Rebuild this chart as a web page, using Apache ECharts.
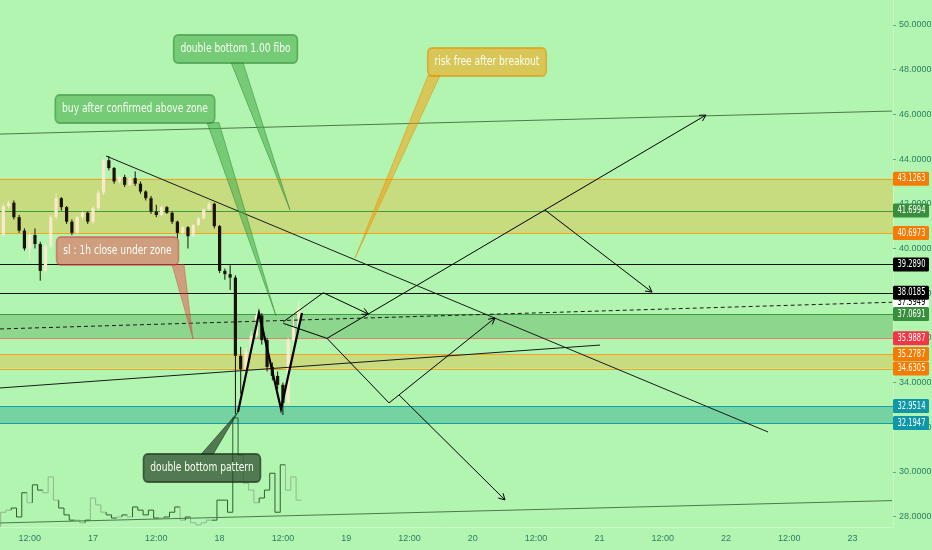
<!DOCTYPE html>
<html><head><meta charset="utf-8">
<script src="https://cdn.jsdelivr.net/npm/echarts@6/dist/echarts.min.js"></script>
<style>html,body{margin:0;padding:0;background:#b2f5b0}#c{width:932px;height:550px}</style>
</head><body><div id="c"></div>
<script>
// ---------------- DATA (hours counted from day 16 00:00) ----------------
const hours = [7,8,9,10,11,12,13,14,15,16,17,18,19,20,21,22,23,24,25,26,27,28,29,30,31,32,33,34,35,36,37,38,39,40,41,42,43,44,45,46,47,48,49,50,51,52,53,54,55,56,57,58,59,60,61,62,63];
const opens  = [40.6,41.9,42.05,41.4,40.8,40.0,40.6,40.2,39.0,40.1,41.4,42.25,41.85,41.2,40.7,41.4,41.6,41.2,41.8,42.5,43.95,43.6,43.0,43.2,42.85,43.15,42.9,42.55,42.25,41.65,41.5,41.85,41.6,41.2,40.7,40.95,40.55,41.05,41.35,41.75,42.0,41.0,39.0,38.85,38.7,35.2,34.6,35.4,36.1,37.0,35.9,34.7,34.3,33.9,33.1,35.9,36.5];
const closes = [41.9,42.05,41.4,40.8,40.0,40.6,40.2,39.0,40.1,41.4,42.25,41.85,41.2,40.7,41.4,41.6,41.2,41.8,42.5,43.95,43.6,43.0,43.2,42.85,43.15,42.9,42.55,42.25,41.65,41.5,41.85,41.6,41.2,40.7,40.95,40.55,41.05,41.35,41.75,42.0,41.0,39.0,38.85,38.7,35.2,34.6,35.4,36.1,37.0,35.9,34.7,34.3,33.9,33.1,35.9,36.5,37.35];
const lows   = [40.5,41.8,41.3,40.7,39.9,39.5,40.0,38.56,38.9,40.0,41.3,41.7,41.1,40.6,40.6,41.3,41.1,41.1,41.7,42.4,43.5,42.9,42.9,42.75,42.8,42.8,42.45,42.15,41.55,41.4,41.45,41.55,41.1,40.46,40.65,40.0,40.5,41.0,41.3,41.7,40.9,38.9,38.6,38.14,32.6,33.5,34.2,35.2,36.0,35.7,34.5,34.1,33.7,32.55,33.0,35.8,36.3];
const highs  = [42.0,42.15,42.15,41.5,40.9,40.7,40.9,40.3,40.2,41.5,42.47,42.3,41.9,41.3,41.45,41.65,41.65,41.9,42.6,44.0,44.14,43.65,43.3,43.3,43.2,43.45,43.0,42.6,42.35,41.95,41.9,41.9,41.65,41.25,41.0,41.0,41.1,41.4,41.8,42.1,42.05,41.05,39.1,39.25,38.8,35.6,35.6,36.3,37.15,37.1,36.0,34.9,34.5,34.0,36.0,36.9,37.6];
const volumes = [2.8,3.2,3.6,1.9,6.5,4.6,8.0,7.0,6.5,9.5,5.1,3.6,2.3,1.3,1.3,0.8,1.3,5.5,4.2,2.8,2.3,1.7,1.9,2.3,1.9,3.8,3.2,2.3,3.2,1.7,1.7,1.9,2.8,3.8,1.3,1.9,0.8,0.4,0.8,1.3,1.3,5.1,5.1,2.8,20.7,13.7,8.3,7.0,4.6,5.5,7.0,10.2,2.8,11.8,7.0,9.5,5.1];

const xTickHours  = [12,24,36,48,60,72,84,96,108,120,132,144,156,168];
const xTickLabels = ['12:00','17','12:00','18','12:00','19','12:00','20','12:00','21','12:00','22','12:00','23'];
const yTicks = [28,30,32,34,36,38,40,42,44,46,48,50];

// horizontal zones (top, bottom) and level lines
const zoneTops    = [43.1263, 37.0691, 35.2787, 32.9514];
const zoneBottoms = [40.6973, 35.9887, 34.6305, 32.1947];
const levelValues = [43.1263, 41.6994, 40.6973, 39.2890, 38.0185, 37.0691, 35.9887, 35.2787, 34.6305, 32.9514, 32.1947];
const dashedLevel = 37.5949;

// drawings: [hour, price] points
const topTrend     = [[6.37,45.12],[175.47,46.15]];
const bottomTrend  = [[6.37,27.72],[175.47,28.72]];
const downTrend    = [[26.47,44.14],[151.97,31.79]];
const supportLine  = [[6.37,33.76],[120.12,35.68]];
const dashedLine   = [[6.37,36.40],[175.47,37.5949]];
const doubleBottom = [[51.49,32.68],[55.47,37.11],[59.64,32.82],[63.62,37.11]];
const pathA = [[60.08,36.72],[67.66,38.02],[76.19,37.07]];
const pathB = [[60.08,36.65],[68.36,35.98],[140.21,45.97]];
const pathC = [[68.36,35.98],[80.12,33.09],[100.21,36.89]];
const pathD = [[82.01,33.45],[102.11,28.75]];
const pathE = [[109.69,41.72],[129.97,38.05]];

// callouts
const calloutTexts     = ['double bottom 1.00 fibo','buy after confirmed above zone','risk free after breakout','sl : 1h close under zone','double bottom pattern'];
const calloutCenters   = [[51.02,48.93],[31.96,46.24],[98.69,48.34],[28.65,39.89],[44.66,30.18]];
const calloutTailBases = [51.30, 46.75, 88.65, 40.11, 45.61];
const calloutTips      = [[61.35,41.72],[58.69,36.98],[73.67,39.57],[42.96,35.95],[51.49,32.68]];

// ---------------- STYLE ----------------
const X_MIN = 6.37, X_MAX = 175.66, Y_MIN = 27.539, Y_MAX = 51.1186;
const FONT = "'DejaVu Sans Condensed','DejaVu Sans',sans-serif";
const AXIS_FONT = "'Liberation Sans',Arial,sans-serif";
const AXIS_TEXT = '#2e7d64';
const UP = '#fbe9cc', DOWN = '#1a1205';
const VOL_UP = '#8fb88f', VOL_DOWN = '#2f5f2f';
const ORANGE = '#f7a21b', GREEN = '#3f9a44', TEAL = '#16a0a6';
const zoneFills = ['rgba(255,152,0,0.28)','rgba(56,142,60,0.30)','rgba(255,152,0,0.28)','rgba(0,150,136,0.35)'];
const levelLineColors = [ORANGE, GREEN, ORANGE, '#111', '#111', GREEN, '#e0806e', ORANGE, ORANGE, TEAL, TEAL];
const labelOrder = [dashedLevel].concat(levelValues);
const labelBg = ['#ffffff','#f57c00','#388e3c','#f57c00','#000000','#000000','#388e3c','#f23645','#f57c00','#f57c00','#0e97a8','#0e97a8'];
const labelFg = ['#000','#fff','#fff','#fff','#fff','#fff','#fff','#fff','#fff','#fff','#fff','#fff'];
const drawingList = [
  {pts: topTrend, color:'#4a7a4a', width:1},
  {pts: bottomTrend, color:'#4a7a4a', width:1},
  {pts: downTrend, color:'#1a1a1a', width:1},
  {pts: supportLine, color:'#1a1a1a', width:1},
  {pts: dashedLine, color:'#1a1a1a', width:1, dash:[4,3]},
  {pts: doubleBottom, color:'#000', width:2.2},
  {pts: pathA, color:'#000', width:1, arrow:true},
  {pts: pathB, color:'#000', width:1, arrow:true},
  {pts: pathC, color:'#000', width:1, arrow:true},
  {pts: pathD, color:'#000', width:1, arrow:true},
  {pts: pathE, color:'#000', width:1, arrow:true}
];
const calloutBg = ['rgba(76,175,80,0.6)','rgba(76,175,80,0.6)','rgba(255,152,0,0.5)','rgba(242,54,69,0.45)','rgba(40,70,40,0.7)'];
const calloutBorder = ['rgba(46,125,50,0.6)','rgba(46,125,50,0.6)','rgba(220,140,0,0.6)','rgba(200,60,60,0.5)','rgba(20,40,20,0.7)'];

function arrowHead(p1, p2, size){
  const ang = Math.atan2(p2[1]-p1[1], p2[0]-p1[0]);
  const a1 = ang + Math.PI - 0.5, a2 = ang + Math.PI + 0.5;
  return [[p2[0]+size*Math.cos(a1), p2[1]+size*Math.sin(a1)], [p2[0], p2[1]], [p2[0]+size*Math.cos(a2), p2[1]+size*Math.sin(a2)]];
}

const chart = echarts.init(document.getElementById('c'));
const idx = a => a.map((_, i) => [i]);

const option = {
  backgroundColor: '#b2f5b0',
  animation: false,
  grid: {left: 0, top: 0, width: 893, height: 527, outerBoundsMode: 'none', containLabel: false},
  xAxis: {
    type: 'value', min: X_MIN, max: X_MAX,
    axisLine: {show: true, lineStyle: {color: '#c9f8c7'}},
    axisTick: {show: false},
    splitLine: {show: false},
    axisLabel: {
      customValues: xTickHours,
      color: AXIS_TEXT, fontSize: 9, fontFamily: AXIS_FONT, margin: 7,
      formatter: v => { const k = xTickHours.indexOf(Math.round(v)); return k >= 0 ? xTickLabels[k] : ''; }
    }
  },
  yAxis: [{
    type: 'value', position: 'right', min: Y_MIN, max: Y_MAX,
    axisLine: {show: true, lineStyle: {color: '#c9f8c7'}},
    axisTick: {show: true, customValues: yTicks, length: 3, lineStyle: {color: '#6aa87a'}},
    splitLine: {show: false},
    axisLabel: {customValues: yTicks, color: AXIS_TEXT, fontSize: 9, fontFamily: AXIS_FONT, margin: 6,
      formatter: v => v.toFixed(4)}
  }, {
    type: 'value', min: 0, max: 100, show: false
  }],
  series: [
    { // zones
      type: 'custom', z: 1, data: idx(zoneTops),
      renderItem(params, api) {
        const i = api.value(0), cs = params.coordSys;
        const yt = api.coord([X_MIN, zoneTops[i]])[1], yb = api.coord([X_MIN, zoneBottoms[i]])[1];
        return {type: 'rect', shape: {x: cs.x, y: yt, width: cs.width, height: yb - yt}, style: {fill: zoneFills[i]}};
      }
    },
    { // level lines
      type: 'custom', z: 2, data: idx(levelValues),
      renderItem(params, api) {
        const i = api.value(0), cs = params.coordSys;
        const y = Math.round(api.coord([X_MIN, levelValues[i]])[1]) + 0.5;
        return {type: 'line', shape: {x1: cs.x, y1: y, x2: cs.x + cs.width, y2: y},
          style: {stroke: levelLineColors[i], lineWidth: 1.2}};
      }
    },
    { // volume (step outline)
      type: 'custom', z: 3, yAxisIndex: 1,
      data: hours.map((h, i) => [h, volumes[i], i ? volumes[i-1] : 0, closes[i] >= opens[i] ? 1 : 0]),
      renderItem(params, api) {
        const h = api.value(0), v = api.value(1), pv = api.value(2), up = api.value(3);
        const half = api.size([1, 0])[0] / 2;
        const pt = api.coord([h, v]), pp = api.coord([h, pv]);
        return {type: 'polyline', shape: {points: [[pt[0]-half, pp[1]], [pt[0]-half, pt[1]], [pt[0]+half, pt[1]]]},
          style: {stroke: up ? VOL_UP : VOL_DOWN, fill: null, lineWidth: 1}};
      }
    },
    { // candles
      type: 'custom', z: 4,
      data: hours.map((h, i) => [h, opens[i], closes[i], lows[i], highs[i]]),
      renderItem(params, api) {
        const h = api.value(0), o = api.value(1), c = api.value(2), l = api.value(3), hi = api.value(4);
        const pO = api.coord([h, o]), pC = api.coord([h, c]), pL = api.coord([h, l]), pH = api.coord([h, hi]);
        const col = c >= o ? UP : DOWN;
        const w = 3.2, top = Math.min(pO[1], pC[1]), bot = Math.max(pO[1], pC[1]);
        return {type: 'group', children: [
          {type: 'line', shape: {x1: pO[0], y1: pH[1], x2: pO[0], y2: pL[1]}, style: {stroke: col, lineWidth: 1}},
          {type: 'rect', shape: {x: pO[0] - w/2, y: top, width: w, height: Math.max(bot - top, 1)}, style: {fill: col}}
        ]};
      }
    },
    { // drawings
      type: 'custom', z: 5, data: idx(drawingList),
      renderItem(params, api) {
        const d = drawingList[api.value(0)];
        const pts = d.pts.map(p => api.coord(p));
        const children = [{type: 'polyline', shape: {points: pts},
          style: {stroke: d.color, lineWidth: d.width, fill: null, lineDash: d.dash || null, lineJoin: 'miter'}}];
        if (d.arrow) {
          children.push({type: 'polyline', shape: {points: arrowHead(pts[pts.length-2], pts[pts.length-1], 7)},
            style: {stroke: d.color, lineWidth: 1, fill: null}});
        }
        return {type: 'group', children};
      }
    },
    { // callouts
      type: 'custom', z: 6, data: idx(calloutTexts),
      renderItem(params, api) {
        const i = api.value(0);
        const c = api.coord(calloutCenters[i]), tip = api.coord(calloutTips[i]);
        const bx = api.coord([calloutTailBases[i], Y_MIN])[0];
        const edgeY = tip[1] > c[1] ? c[1] + 13.5 : c[1] - 13.5;
        return {type: 'group', children: [
          {type: 'polygon', shape: {points: [[bx - 6, edgeY], [bx + 6, edgeY], tip]},
            style: {fill: calloutBg[i], stroke: calloutBorder[i], lineWidth: 0.8}},
          {type: 'text', x: c[0], y: c[1], scaleX: 0.845,
            style: {x: 0, y: 0, text: calloutTexts[i], align: 'center', verticalAlign: 'middle',
            fill: '#f6fff2', fontSize: 12, fontFamily: FONT, lineHeight: 14,
            backgroundColor: calloutBg[i], borderColor: calloutBorder[i], borderWidth: 1,
            borderRadius: 5, padding: [7, 8]}}
        ]};
      }
    },
    { // price labels on the axis
      type: 'custom', z: 10, clip: false, data: idx(labelOrder),
      renderItem(params, api) {
        const i = api.value(0), cs = params.coordSys;
        const y = api.coord([X_MIN, labelOrder[i]])[1];
        const x0 = cs.x + cs.width;
        return {type: 'group', children: [
          {type: 'rect', shape: {x: x0, y: y - 7, width: 36, height: 14, r: 1.5}, style: {fill: labelBg[i]}},
          {type: 'text', x: x0 + 18.5, y: y, scaleX: 0.75,
            style: {x: 0, y: 0, text: labelOrder[i].toFixed(4), fill: labelFg[i],
            fontSize: 10, fontFamily: FONT, align: 'center', verticalAlign: 'middle'}}
        ]};
      }
    }
  ]
};
chart.setOption(option);
</script></body></html>
